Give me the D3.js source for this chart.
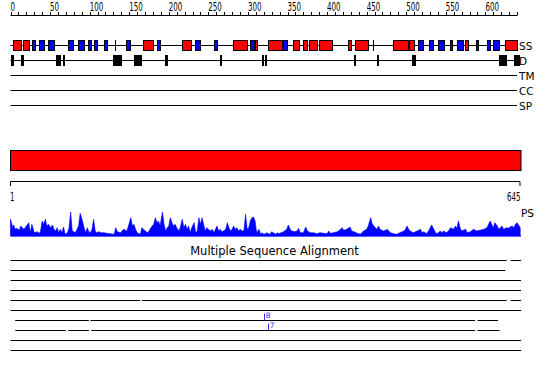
<!DOCTYPE html>
<html><head><meta charset="utf-8">
<script src="https://cdn.jsdelivr.net/npm/d3@7"></script>
<style>body{margin:0;background:#fff}svg{display:block}</style>
</head><body>
<script>
// ---------------- data ----------------
const seqLength = 645;
const axisTicks = d3.range(0, 641, 10);
const axisLabels = d3.range(0, 601, 50);
const trackNames = ["SS", "D", "TM", "CC", "SP"];
const rulerLabels = [1, 645];

// secondary structure (residue ranges)
const helices = [[3,13],[16,23],[167,180],[217,229],[281,299],[309,311],[325,343],[357,364],[370,375],[377,387],[390,406],[426,430],[435,452],[483,502],[503,509],[574,578],[625,640]];
const strands = [[27,31],[36,42],[47,55],[73,79],[85,93],[98,102],[105,109],[118,122],[146,151],[185,189],[233,239],[257,261],[303,308],[344,349],[515,521],[529,534],[540,548],[555,558],[564,572],[588,591],[602,606],[609,616]];
const ssSingles = [132, 458];

// disorder (residue ranges)
const disorder = [[0,4],[13,17],[57,63],[66,69],[129,141],[156,166],[195,199],[265,267],[318,319],[322,324],[434,437],[463,466],[507,512],[617,627],[636,644]];

// PS profile: [residue, score]
const psProfile = [[0,16.7],[3,8.3],[4,11],[6,6.7],[8,7.7],[11,5.7],[13,10],[15,8.3],[17,6.7],[19,9],[21,11],[23,13.3],[25,3.3],[27,11.7],[30,3.3],[34,4.3],[36,2.3],[38,5],[40,15],[42,11.7],[44,16.7],[46,10],[48,11.7],[51,8.3],[53,11],[55,6.7],[57,5],[59,8.3],[61,3.3],[63,6.7],[65,3.3],[67,9],[69,1.7],[72,3.3],[74,8.3],[76,24],[78,5],[80,4.3],[82,3.3],[84,6.7],[86,10],[88,22.7],[91,15],[93,8.3],[95,3.3],[97,8.3],[99,4.3],[101,3.3],[103,6.7],[105,16.7],[107,5],[109,3.3],[112,4.3],[114,3.3],[118,3.3],[122,2.7],[126,2.3],[131,1.7],[133,8.3],[135,4.3],[139,3.3],[143,6.7],[147,5],[149,10],[152,18.3],[154,10],[156,11.7],[158,6.7],[160,3.3],[164,1.7],[166,8.3],[168,6.7],[173,3.3],[175,5],[177,7.7],[179,10],[181,11.7],[183,18.3],[185,13.3],[187,15],[189,10],[192,24],[194,11.7],[196,5],[198,8.3],[200,10],[202,18.3],[204,13.3],[206,10],[208,11.7],[210,8.3],[213,5],[215,10],[217,16.7],[219,8.3],[221,11.7],[223,6.7],[225,10],[227,3.3],[229,8.3],[232,13.3],[234,3.3],[236,5],[238,18.3],[240,11.7],[242,18.3],[244,11.7],[246,5],[248,8.3],[250,6.7],[253,5],[255,6.7],[257,3.3],[259,6.7],[261,10],[263,5],[265,6.7],[267,4.3],[269,5],[272,6.7],[274,13.3],[276,8.3],[278,5],[280,6.7],[282,10],[284,6.7],[286,8.3],[288,5],[290,6.7],[293,5],[295,5.7],[297,21.7],[299,6.7],[301,8.3],[303,15],[305,18.3],[307,19],[309,15],[311,3.3],[314,6.7],[316,1.7],[318,3.3],[320,1.7],[322,2.3],[324,3.3],[326,2.3],[328,1.7],[330,4.3],[333,2.7],[335,1.7],[337,3.3],[339,2.3],
[345,4.3],[349,6.7],[351,11],[354,5.7],[358,4.3],[362,5],[364,7.7],[366,3.3],[370,3.3],[373,9],[375,5],[379,3.3],[383,3.3],[387,2.3],[391,3.3],[396,2.7],[400,2.3],[402,5],[404,2.7],[408,3.3],[413,4.3],[417,6.7],[419,8.3],[421,5.7],[425,6.7],[429,9],[431,5],[434,4.3],[438,2.7],[442,1.7],[444,3.3],[446,5],[450,6.7],[452,10],[455,18.3],[457,12.3],[459,10],[461,8.3],[463,6.7],[465,10],[467,6.7],[471,5],[474,5.7],[476,6.7],[478,5],[480,3.3],[484,2.3],[488,1.7],[492,3.3],[497,5],[499,6.7],[501,10],[503,6.7],[505,5],[509,3.3],[514,5],[518,6.7],[520,3.3],[522,4.3],[526,2.3],[530,7.7],[532,11],[535,6.7],[537,3.3],[539,2.3],[543,5],[545,3.3],[547,5],[551,3.3],[554,5.7],[556,8.3],[560,6.7],[562,10],[564,7.7],[566,15],[568,8.3],[570,5],[572,5.7],[575,6.7],[577,3.3],[581,4.3],[585,6.7],[589,5],[593,5.7],[598,6.7],[602,8.3],[604,11.7],[606,15],[608,11.7],[610,8.3],[612,13.3],[615,10],[617,6.7],[619,8.3],[621,10],[623,6.7],[627,8.3],[629,7.7],[631,9],[634,10],[636,8.3],[638,11.7],[640,13.3],[642,11],[644,8.3]];

// multiple sequence alignment rows (aligned segments, residue ranges)
const msaTitle = "Multiple Sequence Alignment";
const msaRows = [
  [[0,627],[632,645]],
  [[0,625]],
  [[0,645]],
  [[0,645]],
  [[0,164],[166,627],[632,645]],
  [[0,645]],
  [[6,99],[101,587],[590,616]],
  [[6,70],[73,99],[102,587],[590,618]],
  [[0,645]],
  [[0,645]]
];
const msaMarkers = [{row: 6, pos: 320, label: "8"}, {row: 7, pos: 325, label: "7"}];

// ---------------- drawing ----------------
const W = 550, H = 380;
const svg = d3.select("body").append("svg").attr("width", W).attr("height", H);
const x = d3.scaleLinear().domain([0, seqLength]).range([10.5, 521]);
const FONT = "DejaVu Sans, sans-serif";
const digitW = 4.5;

// top axis
const axG = svg.append("g");
axG.append("line").attr("x1", x(0)).attr("x2", x(640)).attr("y1", 15.5).attr("y2", 15.5)
  .attr("stroke", "#000").attr("stroke-width", 1);
axG.selectAll("line.t").data(axisTicks).join("line").attr("class", "t")
  .attr("x1", d => Math.round(x(d)) + 0.5).attr("x2", d => Math.round(x(d)) + 0.5)
  .attr("y1", 12).attr("y2", 15.5).attr("stroke", "#000");
axG.selectAll("text").data(axisLabels).join("text")
  .attr("x", d => x(d)).attr("y", 10.5)
  .attr("font-family", FONT).attr("font-size", 11.5)
  .attr("textLength", d => String(d).length * digitW).attr("lengthAdjust", "spacingAndGlyphs")
  .text(d => d);

// tracks
const trackY = {SS: 45, D: 60, TM: 75, CC: 90, SP: 105};
const trG = svg.append("g");
trG.selectAll("line").data(trackNames).join("line")
  .attr("x1", x(0)).attr("x2", x(640)).attr("y1", d => trackY[d] + 0.5).attr("y2", d => trackY[d] + 0.5)
  .attr("stroke", "#000");
trG.selectAll("text").data(trackNames).join("text")
  .attr("x", 519).attr("y", d => trackY[d] + 4.5)
  .attr("font-family", FONT).attr("font-size", 10.5)
  .text(d => d);

const ssG = svg.append("g");
const ssItems = helices.map(d => ({r: d, c: "#ff0000"})).concat(strands.map(d => ({r: d, c: "#0000ff"})))
  .sort((a, b) => a.r[0] - b.r[0]);
ssG.selectAll("rect").data(ssItems).join("rect")
  .attr("x", d => Math.round(x(d.r[0])) + 0.5).attr("y", 40.5)
  .attr("width", d => Math.max(1, Math.round(x(d.r[1]) - x(d.r[0]))))
  .attr("height", 10).attr("fill", d => d.c).attr("stroke", "#000");
ssG.selectAll("line").data(ssSingles).join("line")
  .attr("x1", d => Math.round(x(d)) + 0.5).attr("x2", d => Math.round(x(d)) + 0.5)
  .attr("y1", 40).attr("y2", 51).attr("stroke", "#000");

svg.append("g").selectAll("rect").data(disorder).join("rect")
  .attr("x", d => Math.round(x(d[0]))).attr("y", 55)
  .attr("width", d => Math.max(2, Math.round(x(d[1]) - x(d[0])))).attr("height", 11)
  .attr("fill", "#000");

// red domain bar
svg.append("rect").attr("x", x(0)).attr("y", 150.5).attr("width", x(seqLength) - x(0)).attr("height", 20)
  .attr("fill", "#ff0000").attr("stroke", "#000");

// ruler
const rG = svg.append("g");
rG.append("line").attr("x1", x(0)).attr("x2", x(seqLength) - 1).attr("y1", 181.5).attr("y2", 181.5).attr("stroke", "#000");
rG.selectAll("line.t").data(rulerLabels).join("line").attr("class", "t")
  .attr("x1", (d, i) => i ? x(seqLength) - 1 : x(0)).attr("x2", (d, i) => i ? x(seqLength) - 1 : x(0))
  .attr("y1", 181.5).attr("y2", 186).attr("stroke", "#000");
rG.selectAll("text").data(rulerLabels).join("text")
  .attr("x", (d, i) => i ? x(seqLength) - 0.5 : x(0) - 0.5).attr("y", 200.5)
  .attr("text-anchor", (d, i) => i ? "end" : "start")
  .attr("font-family", FONT).attr("font-size", 11.5)
  .attr("textLength", d => String(d).length * digitW).attr("lengthAdjust", "spacingAndGlyphs")
  .text(d => d);
svg.append("text").attr("x", 521).attr("y", 216.5).attr("font-family", FONT).attr("font-size", 10.5).text("PS");

// PS area
const yPS = d3.scaleLinear().domain([0, 25]).range([236, 211]);
const area = d3.area().x(d => x(d[0])).y0(yPS(0)).y1(d => yPS(d[1])).curve(d3.curveLinear);
svg.append("path").datum(psProfile).attr("d", area).attr("fill", "#0000ff").attr("stroke", "#0000ff").attr("stroke-width", 0.6);
svg.append("line").attr("x1", x(0)).attr("x2", x(seqLength)).attr("y1", 236).attr("y2", 236).attr("stroke", "#0000ff");

// MSA
svg.append("text").attr("x", 274.5).attr("y", 255).attr("text-anchor", "middle")
  .attr("font-family", FONT).attr("font-size", 11.5).text(msaTitle);
const rowY = d3.scaleLinear().domain([0, 1]).range([260.5, 270.5]);
const msaG = svg.append("g");
msaRows.forEach((segs, i) => {
  msaG.selectAll(null).data(segs).join("line")
    .attr("x1", d => x(d[0])).attr("x2", d => x(d[1]))
    .attr("y1", rowY(i)).attr("y2", rowY(i)).attr("stroke", "#000");
});
const mkG = svg.append("g");
mkG.selectAll("line").data(msaMarkers).join("line")
  .attr("x1", d => Math.round(x(d.pos)) + 0.5).attr("x2", d => Math.round(x(d.pos)) + 0.5)
  .attr("y1", d => rowY(d.row) - 7).attr("y2", d => rowY(d.row)).attr("stroke", "#3333ff");
mkG.selectAll("text").data(msaMarkers).join("text")
  .attr("x", d => x(d.pos) + 2).attr("y", d => rowY(d.row) - 2.5)
  .attr("font-family", FONT).attr("font-size", 7.5).attr("fill", "#3333ff")
  .text(d => d.label);
</script>
</body></html>
